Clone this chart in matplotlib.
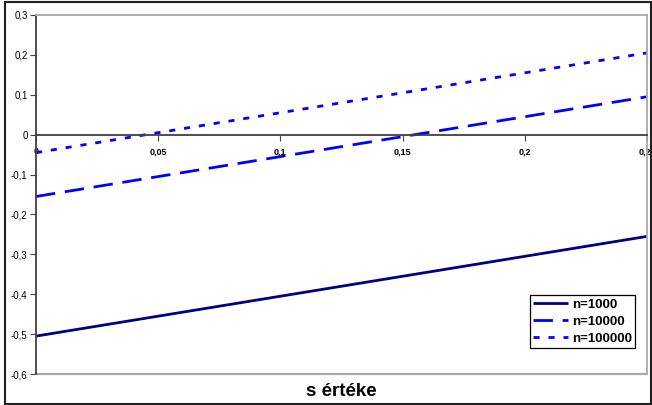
import matplotlib.pyplot as plt
from matplotlib.patches import Rectangle
from matplotlib.ticker import FuncFormatter

plt.rcParams["font.family"] = ["Liberation Sans", "DejaVu Sans"]

# s values and the three series
s = [0.0, 0.05, 0.10, 0.15, 0.20, 0.25]
n1000 = [-0.505, -0.455, -0.405, -0.355, -0.305, -0.255]
n10000 = [-0.155, -0.105, -0.055, -0.005, 0.045, 0.095]
n100000 = [-0.045, 0.005, 0.055, 0.105, 0.155, 0.205]

x_ticks = [0, 0.05, 0.1, 0.15, 0.2, 0.25]
y_ticks = [-0.6, -0.5, -0.4, -0.3, -0.2, -0.1, 0, 0.1, 0.2, 0.3]


def comma(v, pos):
    txt = ("%.2f" % v).rstrip("0").rstrip(".")
    if txt in ("-0", ""):
        txt = "0"
    return txt.replace(".", ",")


fig = plt.figure(figsize=(6.52, 4.05), dpi=100)
ax = fig.add_axes([36 / 652, 1 - 374 / 405, (647 - 36) / 652, (374 - 15) / 405])

ax.plot(s, n1000, color="#000080", lw=2.0, label="n=1000", solid_capstyle="butt")
ax.plot(s, n10000, color="#0000ff", lw=2.0, dashes=(7, 3.5), label="n=10000")
ax.plot(s, n100000, color="#0000ff", lw=2.0, dashes=(2.2, 3.2), label="n=100000")

ax.set_xlim(0, 0.25)
ax.set_ylim(-0.6, 0.3)
ax.set_xticks(x_ticks)
ax.set_yticks(y_ticks)
ax.xaxis.set_major_formatter(FuncFormatter(comma))
ax.yaxis.set_major_formatter(FuncFormatter(comma))

ax.spines["bottom"].set_position(("data", 0))
ax.spines["bottom"].set_color("#404040")
ax.spines["left"].set_color("#404040")
ax.spines["bottom"].set_linewidth(1.3)
ax.spines["left"].set_linewidth(1.3)
ax.spines["top"].set_color("#a8a8a8")
ax.spines["right"].set_color("#a8a8a8")
ax.spines["top"].set_linewidth(1.3)
ax.spines["right"].set_linewidth(1.3)
ax.axhline(-0.6, color="#a8a8a8", lw=1.6, clip_on=False)

ax.tick_params(axis="x", direction="out", length=4, color="#404040",
               labelsize=6.5, pad=5)
ax.tick_params(axis="y", direction="out", length=4, color="#404040",
               labelsize=7, pad=2)
for lbl in ax.get_xticklabels():
    lbl.set_fontweight("bold")

ax.set_xlabel("s értéke", fontsize=13.5, fontweight="bold", va="center")
ax.xaxis.set_label_coords(0.5, -(392 - 374) / 359)

leg = ax.legend(loc="lower right", bbox_to_anchor=((635 - 36) / 611, (374 - 348) / 359),
                prop={"weight": "bold", "size": 9.5}, fancybox=False,
                framealpha=1, edgecolor="black", borderpad=0.25,
                labelspacing=0.35, handlelength=2.6, handletextpad=0.3,
                borderaxespad=0)
leg.get_frame().set_linewidth(0.9)

# outer chart border
fig.patches.append(Rectangle((5 / 652, 1.5 / 405), 646 / 652, 402 / 405,
                             transform=fig.transFigure, fill=False,
                             edgecolor="#202020", lw=1.5))

fig.savefig("out.png", dpi=100)
